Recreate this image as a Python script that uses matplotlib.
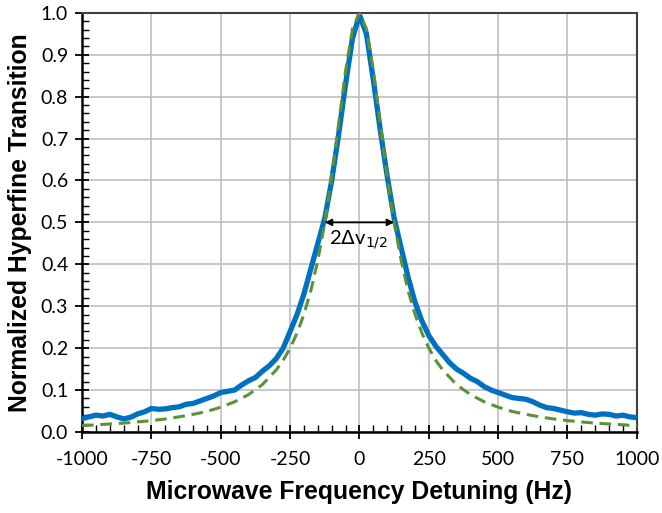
import matplotlib
matplotlib.use("Agg")
import matplotlib.pyplot as plt
from matplotlib.ticker import MultipleLocator

detuning = [-1000, -975, -950, -925, -900, -875, -850, -825, -800, -775,
            -750, -725, -700, -675, -650, -625, -600, -575, -550, -525,
            -500, -475, -450, -425, -400, -375, -350, -325, -300, -275,
            -250, -225, -200, -175, -150, -125, -100, -75, -50, -25,
            0, 25, 50, 75, 100, 125, 150, 175, 200, 225,
            250, 275, 300, 325, 350, 375, 400, 425, 450, 475,
            500, 525, 550, 575, 600, 625, 650, 675, 700, 725,
            750, 775, 800, 825, 850, 875, 900, 925, 950, 975, 1000]
signal = [0.032, 0.036, 0.040, 0.038, 0.042, 0.036, 0.031, 0.035, 0.043, 0.048,
          0.056, 0.054, 0.055, 0.058, 0.060, 0.066, 0.068, 0.074, 0.080, 0.086,
          0.094, 0.097, 0.100, 0.112, 0.122, 0.130, 0.145, 0.158, 0.175, 0.200,
          0.240, 0.280, 0.330, 0.390, 0.450, 0.510, 0.600, 0.710, 0.830, 0.940,
          0.995, 0.950, 0.840, 0.720, 0.610, 0.510, 0.440, 0.370, 0.310, 0.265,
          0.230, 0.205, 0.185, 0.165, 0.150, 0.140, 0.128, 0.120, 0.108, 0.100,
          0.094, 0.088, 0.082, 0.080, 0.078, 0.072, 0.064, 0.058, 0.056, 0.052,
          0.048, 0.045, 0.046, 0.042, 0.040, 0.043, 0.042, 0.038, 0.040, 0.036, 0.034]

# fitted lineshape (dashed)
fit_x = [-1000, -950, -900, -850, -800, -750, -700, -650, -600, -550,
         -500, -450, -400, -350, -300, -275, -250, -225, -200, -175,
         -150, -125, -100, -75, -50, -25, 0, 25, 50, 75,
         100, 125, 150, 175, 200, 225, 250, 275, 300, 350,
         400, 450, 500, 550, 600, 650, 700, 750, 800, 850, 900, 950, 1000]
fit_y = [0.015, 0.017, 0.019, 0.021, 0.024, 0.027, 0.031, 0.036, 0.042, 0.049,
         0.059, 0.072, 0.089, 0.113, 0.148, 0.171, 0.200, 0.236, 0.281, 0.338,
         0.410, 0.500, 0.610, 0.735, 0.862, 0.962, 1.000, 0.962, 0.862, 0.735,
         0.610, 0.500, 0.410, 0.338, 0.281, 0.236, 0.200, 0.171, 0.148, 0.113,
         0.089, 0.072, 0.059, 0.049, 0.042, 0.036, 0.031, 0.027, 0.024, 0.021, 0.019, 0.017, 0.015]

fwhm_left, fwhm_right, half = -125, 125, 0.5

plt.rcParams['font.family'] = ['Lato', 'DejaVu Sans']
plt.rcParams['axes.unicode_minus'] = False

fig = plt.figure(figsize=(6.62, 5.13), dpi=100)
ax = fig.add_axes([0.124, 0.158, 0.838, 0.817])

ax.plot(detuning, signal, color='#0070C0', lw=3.8, zorder=3)
ax.plot(fit_x, fit_y, color='#5B9236', lw=2.2, ls=(0, (3.8, 2.2)), zorder=4)

ax.annotate('', xy=(fwhm_right, half), xytext=(fwhm_left, half),
            arrowprops=dict(arrowstyle='<|-|>', color='black', lw=1.3,
                            mutation_scale=10, shrinkA=0, shrinkB=0), zorder=5)
ax.text(-5, 0.458, r'2$\Delta$v$_{1/2}$', ha='center', va='center', fontsize=14.5,
        family=['Lato', 'DejaVu Sans'], zorder=5)

ax.set_xlim(-1000, 1000)
ax.set_ylim(0, 1.0)
ax.xaxis.set_major_locator(MultipleLocator(250))
ax.xaxis.set_minor_locator(MultipleLocator(50))
ax.yaxis.set_major_locator(MultipleLocator(0.1))
ax.yaxis.set_minor_locator(MultipleLocator(0.02))
ax.yaxis.set_major_formatter(matplotlib.ticker.FormatStrFormatter('%.1f'))

ax.grid(True, which='major', color='#BFBFBF', lw=1.2, zorder=0)
ax.tick_params(which='major', direction='inout', length=10, width=1.3, labelsize=14, pad=5)
ax.tick_params(which='minor', direction='in', length=5, width=1.0)
ax.tick_params(axis='x', which='major', pad=9)

for s in ['left', 'bottom']:
    ax.spines[s].set_linewidth(1.8)
    ax.spines[s].set_color('black')
for s in ['top', 'right']:
    ax.spines[s].set_linewidth(1.5)
    ax.spines[s].set_color('#404040')

ax.set_xlabel('Microwave Frequency Detuning (Hz)', fontsize=17.8, fontweight='bold',
              family='Liberation Sans', labelpad=8)
ax.set_ylabel('Normalized Hyperfine Transition', fontsize=17.8, fontweight='bold',
              family='Liberation Sans', labelpad=6)

fig.savefig('out.png', dpi=100)
